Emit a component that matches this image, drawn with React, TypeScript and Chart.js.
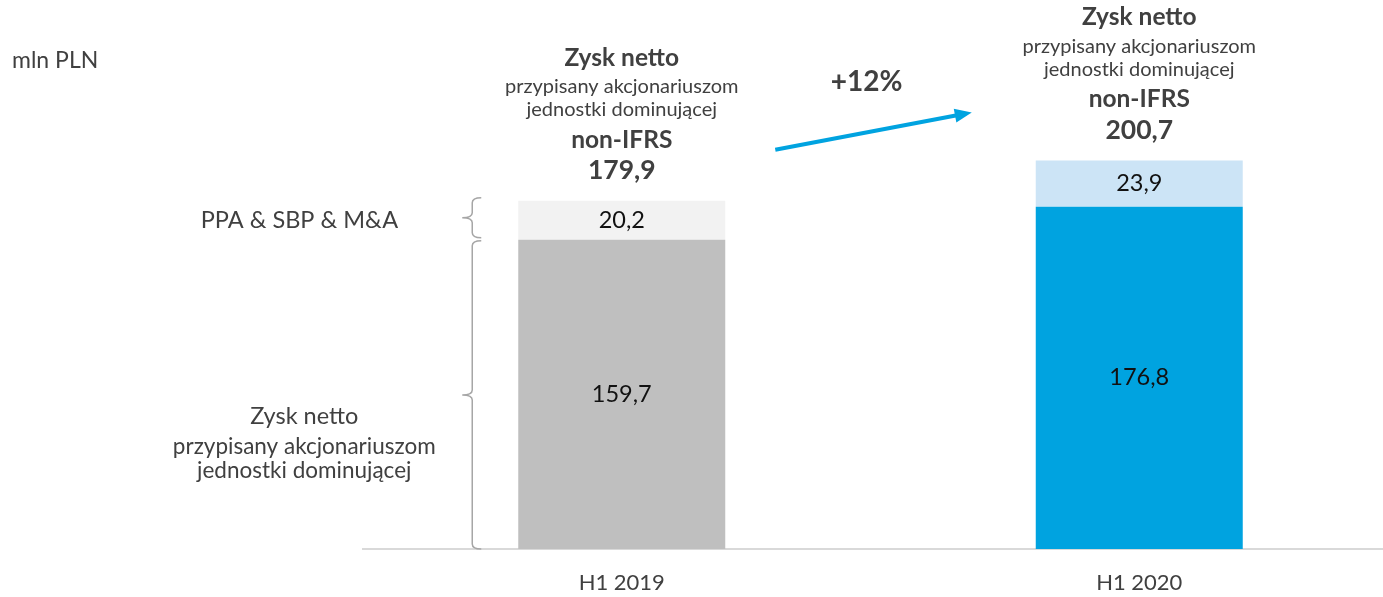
import React, { useEffect, useRef } from "react";
import { Chart, registerables } from "chart.js";

Chart.register(...registerables);

const categories = ["H1 2019", "H1 2020"];
const netProfit = [159.7, 176.8];
const adjustments = [20.2, 23.9];
const baseColors = ["#BFBFBF", "#00A3E0"];
const adjColors = ["#F2F2F2", "#CCE4F6"];
const unitLabel = "mln PLN";
const adjLabel = "PPA & SBP & M&A";
const netLabelLines = ["Zysk netto", "przypisany akcjonariuszom", "jednostki dominującej"];
const topTitleLines = ["Zysk netto", "przypisany akcjonariuszom", "jednostki dominującej", "non-IFRS"];

const FONT = "Lato, 'Open Sans', sans-serif";
const TXT = "#404040";

const fmt = (v: number) => v.toFixed(1).replace(".", ",");

const overlayPlugin = {
  id: "overlay",
  afterDatasetsDraw(chart: any) {
    const ctx = chart.ctx as CanvasRenderingContext2D;
    const x = chart.scales.x;
    const y = chart.scales.y;
    const m0 = chart.getDatasetMeta(0);
    const m1 = chart.getDatasetMeta(1);
    ctx.save();
    ctx.textAlign = "center";
    ctx.textBaseline = "middle";

    // in-bar value labels
    ctx.fillStyle = "#111";
    ctx.font = `23.5px ${FONT}`;
    [m0, m1].forEach((meta: any, di: number) => {
      meta.data.forEach((bar: any, i: number) => {
        const v = di === 0 ? netProfit[i] : adjustments[i];
        ctx.fillText(fmt(v), bar.x, (bar.y + bar.base) / 2);
      });
    });

    // top annotations
    categories.forEach((_, i) => {
      const total = netProfit[i] + adjustments[i];
      const cx = x.getPixelForValue(i);
      const top = y.getPixelForValue(total);
      ctx.fillStyle = TXT;
      ctx.font = `bold 24.5px ${FONT}`;
      ctx.fillText(topTitleLines[0], cx, top - 143);
      ctx.font = `20px ${FONT}`;
      ctx.fillText(topTitleLines[1], cx, top - 114);
      ctx.fillText(topTitleLines[2], cx, top - 91);
      ctx.font = `bold 24.5px ${FONT}`;
      ctx.fillText(topTitleLines[3], cx, top - 61);
      ctx.font = `bold 26.5px ${FONT}`;
      ctx.fillText(fmt(total), cx, top - 30);
    });

    // arrow between bars
    const b0 = m0.data[0];
    const b1 = m0.data[1];
    const t0 = y.getPixelForValue(netProfit[0] + adjustments[0]);
    const t1 = y.getPixelForValue(netProfit[1] + adjustments[1]);
    const w0 = b0.width / 2;
    const sx = b0.x + w0 + 50;
    const sy = t0 - 51;
    const ex = b1.x - w0 - 64;
    const ey = t1 - 48;
    const ang = Math.atan2(ey - sy, ex - sx);
    const hl = 17;
    const hw = 7;
    ctx.strokeStyle = "#00A3E0";
    ctx.fillStyle = "#00A3E0";
    ctx.lineWidth = 4;
    ctx.beginPath();
    ctx.moveTo(sx, sy);
    ctx.lineTo(ex - Math.cos(ang) * hl * 0.8, ey - Math.sin(ang) * hl * 0.8);
    ctx.stroke();
    ctx.beginPath();
    ctx.moveTo(ex, ey);
    ctx.lineTo(ex - Math.cos(ang) * hl - Math.sin(ang) * hw, ey - Math.sin(ang) * hl + Math.cos(ang) * hw);
    ctx.lineTo(ex - Math.cos(ang) * hl + Math.sin(ang) * hw, ey - Math.sin(ang) * hl - Math.cos(ang) * hw);
    ctx.closePath();
    ctx.fill();

    const growth = Math.round(((netProfit[1] + adjustments[1]) / (netProfit[0] + adjustments[0]) - 1) * 100);
    ctx.fillStyle = TXT;
    ctx.font = `bold 28px ${FONT}`;
    ctx.fillText(`+${growth}%`, (sx + ex) / 2 - 7, t0 - 119);

    // braces
    const bx = b0.x - w0 - 46;
    const drawBrace = (yTop: number, yBot: number) => {
      const mid = (yTop + yBot) / 2;
      const c = 5;
      ctx.beginPath();
      ctx.moveTo(bx + 9, yTop);
      ctx.quadraticCurveTo(bx, yTop, bx, yTop + c);
      ctx.lineTo(bx, mid - c);
      ctx.quadraticCurveTo(bx, mid, bx - 10, mid);
      ctx.quadraticCurveTo(bx, mid, bx, mid + c);
      ctx.lineTo(bx, yBot - c);
      ctx.quadraticCurveTo(bx, yBot, bx + 9, yBot);
      ctx.stroke();
      return mid;
    };
    ctx.strokeStyle = "#A6A6A6";
    ctx.lineWidth = 1.5;
    const yBase = y.getPixelForValue(0);
    const yNet = y.getPixelForValue(netProfit[0]);
    const yTot = y.getPixelForValue(netProfit[0] + adjustments[0]);
    const midA = drawBrace(yTot - 3, yNet - 2);
    const midB = drawBrace(yNet + 1, yBase);

    ctx.fillStyle = TXT;
    ctx.textAlign = "right";
    ctx.font = `23.5px ${FONT}`;
    ctx.fillText(adjLabel, bx - 74, midA + 3);
    ctx.textAlign = "center";
    const lcx = bx - 168;
    ctx.font = `23.5px ${FONT}`;
    ctx.fillText(netLabelLines[0], lcx, midB + 22);
    ctx.font = `22.5px ${FONT}`;
    ctx.fillText(netLabelLines[1], lcx, midB + 52);
    ctx.fillText(netLabelLines[2], lcx, midB + 76);

    ctx.textAlign = "left";
    ctx.font = `23px ${FONT}`;
    ctx.fillText(unitLabel, 12, 61);
    ctx.restore();
  },
};

export default function App() {
  const ref = useRef<HTMLCanvasElement>(null);
  useEffect(() => {
    document.body.style.margin = "0";
    const chart = new Chart(ref.current!, {
      type: "bar",
      data: {
        labels: categories,
        datasets: [
          { label: "Zysk netto", data: netProfit, backgroundColor: baseColors, stack: "s" },
          { label: adjLabel, data: adjustments, backgroundColor: adjColors, stack: "s" },
        ],
      },
      options: {
        responsive: false,
        animation: false,
        devicePixelRatio: 1,
        layout: { padding: { left: 363, right: 0, top: 65, bottom: 0 } },
        plugins: { legend: { display: false }, tooltip: { enabled: false } },
        datasets: { bar: { categoryPercentage: 1, barPercentage: 0.4 } },
        scales: {
          x: {
            stacked: true,
            grid: { display: false },
            border: { display: true, color: "#D9D9D9", width: 2 },
            ticks: { color: TXT, font: { family: FONT, size: 22 }, padding: 13 },
            afterFit: (s: any) => {
              s.height = 48;
            },
          },
          y: { stacked: true, display: false, min: 0, max: 250 },
        },
      },
      plugins: [overlayPlugin],
    });
    return () => chart.destroy();
  }, []);
  return (
    <div style={{ position: "absolute", left: 0, top: 0, width: 1383, height: 597, overflow: "hidden", background: "#fff" }}>
      <canvas ref={ref} width={1398} height={597} />
    </div>
  );
}
